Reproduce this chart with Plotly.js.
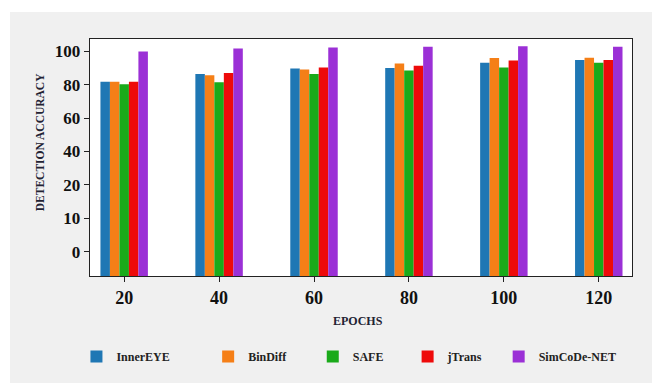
<!DOCTYPE html>
<html>
<head>
<meta charset="utf-8">
<script src="https://cdn.plot.ly/plotly-3.0.1.min.js"></script>
<style>
html,body{margin:0;padding:0;background:#ffffff;width:652px;height:383px;overflow:hidden;}
#frame{position:absolute;left:10px;top:12px;width:642px;height:371px;background:#f0f0f0;}
#chart{width:642px;height:371px;}
</style>
</head>
<body>
<div id="frame"><div id="chart"></div></div>
<script>
// Data
const epochs = ["20", "40", "60", "80", "100", "120"];
const innerEYE   = [81.7, 86.4, 89.7, 90.0, 93.1, 94.7];
const binDiff    = [81.7, 85.6, 89.1, 92.7, 95.9, 96.1];
const safe       = [80.2, 81.4, 86.4, 88.5, 90.3, 93.1];
const jTrans     = [81.7, 87.0, 90.3, 91.3, 94.5, 94.7];
const simCoDeNet = [99.8, 101.6, 102.2, 102.6, 103.0, 102.7];

const seriesNames = ["InnerEYE", "BinDiff", "SAFE", "jTrans", "SimCoDe-NET"];
const seriesValues = [innerEYE, binDiff, safe, jTrans, simCoDeNet];
const seriesColors = ["#1f77b4", "#f57f17", "#1aaa1a", "#ee0a0a", "#9b30d6"];

// y tick labels as printed on the reference axis
const yTickVals = [-20, 0, 20, 40, 60, 80, 100];
const yTickText = ["0", "10", "20", "40", "60", "80", "100"];

const yMin = -34.5, yMax = 107.3;

const serif = "'Liberation Serif', 'Times New Roman', serif";

// horizontal position of each legend entry (paper fraction)
const legendX = [-0.025, 0.218, 0.411, 0.586, 0.754];

const traces = seriesNames.map((name, i) => ({
  type: "bar",
  name: name,
  x: epochs,
  y: seriesValues[i].map(v => v - yMin),
  base: yMin,
  marker: {color: seriesColors[i], line: {width: 0}},
  legend: i === 0 ? "legend" : "legend" + (i + 1),
  hovertemplate: name + ": %{customdata}<extra></extra>",
  customdata: seriesValues[i]
}));

const layout = {
  width: 642,
  height: 371,
  margin: {l: 80, r: 20, t: 27, b: 105},
  paper_bgcolor: "#f0f0f0",
  plot_bgcolor: "#ffffff",
  barmode: "group",
  bargap: 0.5,
  bargroupgap: 0,
  showlegend: true,
  font: {family: serif, color: "#111111"},
  xaxis: {
    type: "category",
    range: [-0.36, 5.35],
    showline: true, linecolor: "#222222", linewidth: 1, mirror: true,
    ticks: "outside", ticklen: 5, tickcolor: "#222222",
    showgrid: false, zeroline: false,
    tickfont: {family: serif, size: 18, color: "#111111", weight: "bold"}
  },
  yaxis: {
    range: [yMin, yMax],
    tickvals: yTickVals,
    ticktext: yTickText,
    showline: true, linecolor: "#222222", linewidth: 1.3, mirror: true,
    ticks: "outside", ticklen: 5, tickcolor: "#222222",
    showgrid: false, zeroline: false,
    tickfont: {family: serif, size: 17, color: "#111111", weight: "bold"}
  },
  annotations: [
    {text: "<b>EPOCHS</b>", xref: "paper", yref: "paper", x: 0.495, y: -0.19,
     xanchor: "center", yanchor: "middle", showarrow: false,
     font: {family: serif, size: 12, color: "#222233"}},
    {text: "<b>DETECTION ACCURACY</b>", xref: "paper", yref: "paper",
     x: -0.092, y: 0.565, textangle: -90, xanchor: "center", yanchor: "middle",
     showarrow: false, font: {family: serif, size: 11.5, color: "#222233"}}
  ]
};

legendX.forEach((lx, i) => {
  const key = i === 0 ? "legend" : "legend" + (i + 1);
  layout[key] = {
    orientation: "h",
    x: lx, xanchor: "left",
    y: -0.34, yanchor: "middle",
    bgcolor: "rgba(0,0,0,0)",
    itemwidth: 30,
    font: {family: serif, size: 12, color: "#222222", weight: "bold"}
  };
});

Plotly.newPlot("chart", traces, layout, {displayModeBar: false, staticPlot: true});
</script>
</body>
</html>
